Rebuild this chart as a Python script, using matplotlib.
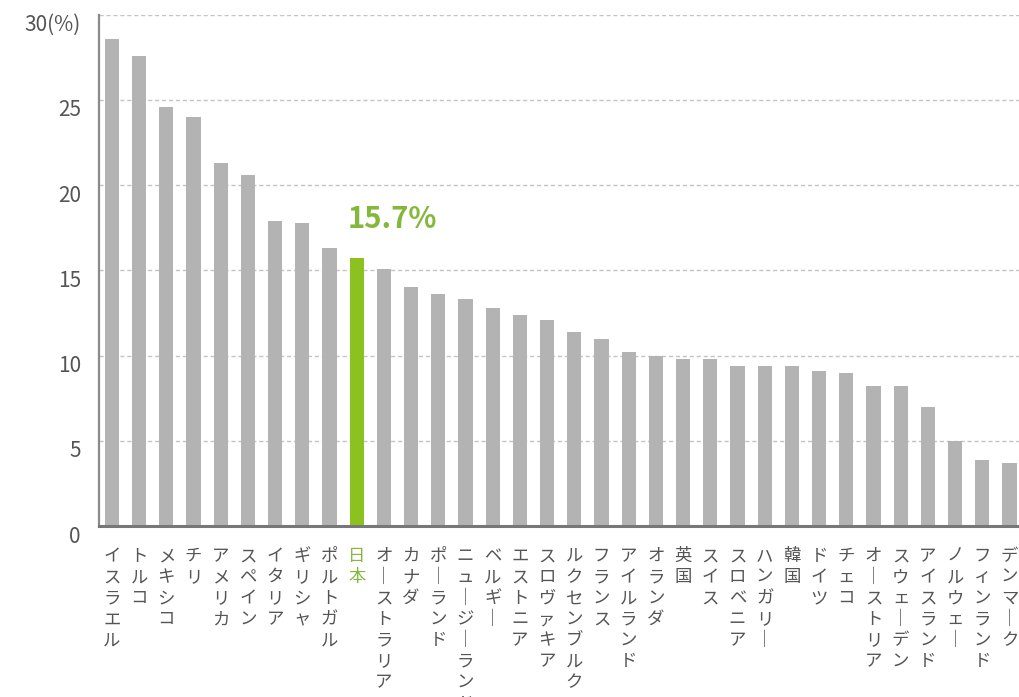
import matplotlib
matplotlib.use("Agg")
import matplotlib.pyplot as plt
import matplotlib.transforms as mtransforms
import numpy as np

plt.rcParams["font.family"] = ["Noto Sans CJK JP", "DejaVu Sans"]

COUNTRIES = [
    "イスラエル", "トルコ", "メキシコ", "チリ", "アメリカ", "スペイン",
    "イタリア", "ギリシャ", "ポルトガル", "日本", "オーストラリア", "カナダ",
    "ポーランド", "ニュージーランド", "ベルギー", "エストニア", "スロヴァキア",
    "ルクセンブルク", "フランス", "アイルランド", "オランダ", "英国", "スイス",
    "スロベニア", "ハンガリー", "韓国", "ドイツ", "チェコ", "オーストリア",
    "スウェーデン", "アイスランド", "ノルウェー", "フィンランド", "デンマーク",
]
RATES = [
    28.6, 27.6, 24.6, 24.0, 21.3, 20.6,
    17.9, 17.8, 16.3, 15.7, 15.1, 14.0,
    13.6, 13.3, 12.8, 12.4, 12.1,
    11.4, 11.0, 10.2, 10.0, 9.8, 9.8,
    9.4, 9.4, 9.4, 9.1, 9.0, 8.2,
    8.2, 7.0, 5.0, 3.9, 3.7,
]
Y_TICKS = [0, 5, 10, 15, 20, 25, 30]
Y_TICK_LABELS = ["0", "5", "10", "15", "20", "25", "30(%)"]
HIGHLIGHT = "日本"

GRAY_BAR = "#b3b3b3"
GREEN_BAR = "#8cc220"
GREEN_TEXT = "#84b83a"
TEXT_COLOR = "#555555"


def vertical(name):
    return "\n".join(name.replace("ー", "｜"))


fig = plt.figure(figsize=(10.19, 6.97), dpi=100)
fig.patch.set_facecolor("white")
ax = fig.add_axes([0.097, 0.245, 0.903, 0.734])

x = np.arange(len(COUNTRIES))
colors = [GREEN_BAR if c == HIGHLIGHT else GRAY_BAR for c in COUNTRIES]
ax.bar(x, RATES, width=0.52, color=colors, zorder=2)

ax.set_xlim(-0.48, len(COUNTRIES) - 0.65)
ax.set_ylim(0, 30)

ax.set_yticks(Y_TICKS)
ax.set_yticklabels(Y_TICK_LABELS, fontsize=15, color=TEXT_COLOR)
ax.tick_params(axis="y", length=0, pad=13)
shift = mtransforms.ScaledTranslation(0, -0.08, fig.dpi_scale_trans)
for label in ax.get_yticklabels():
    label.set_transform(label.get_transform() + shift)

ax.set_xticks(x)
ax.set_xticklabels([vertical(c) for c in COUNTRIES], fontsize=12.5,
                   color=TEXT_COLOR, linespacing=1.22, va="top")
ax.tick_params(axis="x", length=0, pad=15)
for label, name in zip(ax.get_xticklabels(), COUNTRIES):
    if name == HIGHLIGHT:
        label.set_color(GREEN_TEXT)

for y in Y_TICKS[1:]:
    ax.axhline(y, color="#c4c4c4", linewidth=1.0, linestyle=(0, (3, 2)), zorder=1)

for side in ["top", "right"]:
    ax.spines[side].set_visible(False)
ax.spines["left"].set_color("#8a8a8a")
ax.spines["left"].set_linewidth(1.6)
ax.spines["bottom"].set_color("#777777")
ax.spines["bottom"].set_linewidth(2.2)

jp_index = COUNTRIES.index(HIGHLIGHT)
ax.text(jp_index - 0.33, 18.0, f"{RATES[jp_index]}%", ha="left", va="center",
        fontsize=21, fontweight="bold", color=GREEN_TEXT)

fig.savefig("out.png", dpi=100)
